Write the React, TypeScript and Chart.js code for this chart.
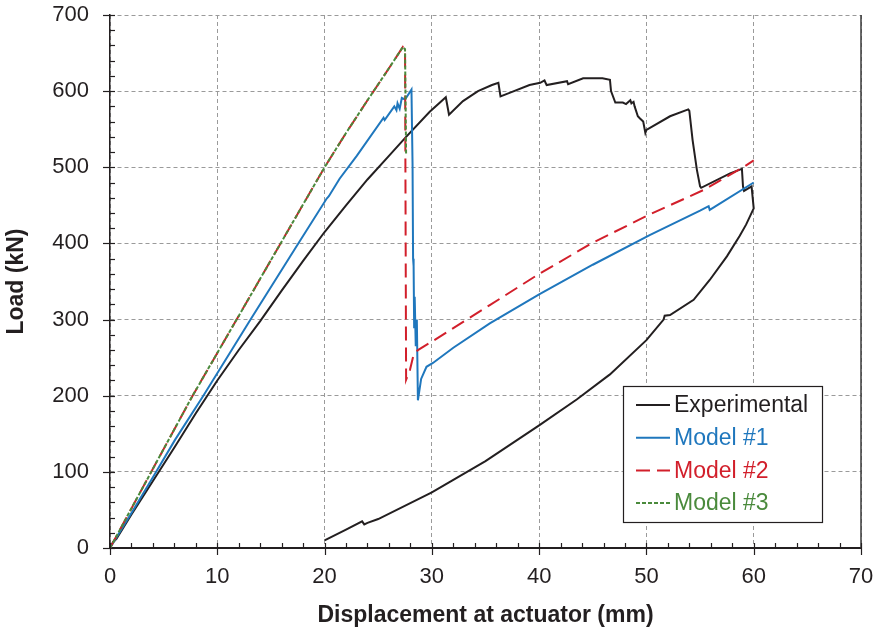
import React, { useEffect, useRef } from "react";
import { Chart, registerables } from "chart.js";

Chart.register(...registerables);

const FONT = '"Liberation Sans", Arial, Helvetica, sans-serif';
const INK = "#231f20";

// Axis settings
const xMin = 0;
const xMax = 70;
const xMajorStep = 10;
const xMinorStep = 2;
const yMin = 0;
const yMax = 700;
const yMajorStep = 100;
const yMinorStep = 20;

const xTitle = "Displacement at actuator (mm)";
const yTitle = "Load (kN)";

const seriesLabels = ["Experimental", "Model #1", "Model #2", "Model #3"];
const seriesColors = ["#231f20", "#1f77bd", "#d21f2b", "#4a8a3c"];

// Experimental
const expX = [
  0, 0.3, 0.6, 2, 4, 6, 8, 10, 12, 14, 16, 18, 20, 22, 24, 26, 27.6, 29.8, 31.3, 31.6,
  32.9, 34.3, 35.6, 36.2, 36.4, 37.3, 39.1, 40.1, 40.5, 40.7, 42.6, 42.7, 44.1, 45.9,
  46.6, 46.7, 47.1, 47.8, 48.1, 48.5, 48.6, 48.8, 48.9, 49.2, 49.4, 49.7, 49.9, 50.0,
  52.2, 53.9, 54.0, 54.3, 54.7, 55.0, 55.1, 57.8, 58.9, 59.0, 59.1, 59.8, 60.0,
  59.3, 58.7, 57.5, 55.9, 54.4, 52.2, 51.7, 51.6, 50.0, 46.6, 43.5, 40, 35, 30, 25, 24,
  23.7, 23.5, 22, 20,
];
const expY = [
  0, 8, 12, 44, 88, 132, 177, 220, 260, 298, 338, 377, 415, 450, 484, 515, 540, 573, 592, 569,
  587, 600, 608, 611, 593, 598, 608, 611, 614, 608, 613, 609, 617, 617,
  615, 600, 585, 585, 583, 588, 584, 586, 580, 567, 564, 560, 545, 549,
  567, 576, 574, 536, 497, 475, 473, 492, 498, 475, 469, 475, 446,
  425, 410, 383, 352, 326, 306, 305, 300, 273, 228, 195, 161, 114, 73, 38, 33,
  31, 35, 24, 10,
];

// Model #1
const m1X = [
  0, 2, 4, 6.06, 8.7, 13.1, 17.55, 20.2, 20.4, 21.4, 23, 25.5, 25.6, 26.5, 26.7, 26.8, 27.0,
  27.2, 27.5, 28.1, 28.2, 28.25, 28.3, 28.35, 28.4, 28.5, 28.6, 28.7, 29.0, 29.5, 30.1, 32,
  35.4, 40, 45, 50.3, 55, 55.8, 55.9, 60,
];
const m1Y = [
  0, 46, 93, 142, 200, 300, 400, 459, 462, 485, 515, 565, 562, 580, 575, 584, 577,
  591, 589, 602, 505, 380, 370, 290, 330, 265, 300, 194, 222, 238, 243, 263,
  295, 333, 372, 411, 443, 449, 444, 480,
];

// Model #2
const m2X = [
  0, 2, 4, 6, 7.7, 11.8, 15.9, 20, 22, 24, 26, 27.3, 27.5, 27.6, 27.96, 28.3, 28.7, 30,
  35.4, 40, 45, 50.3, 55.3, 58.9, 60,
];
const m2Y = [
  0, 52, 104, 156, 200, 300, 400, 500, 545, 588, 630, 658, 655, 221, 234, 254, 260, 271,
  319, 360, 401, 438, 470, 499, 509,
];

// Model #3
const m3X = [0, 2, 4, 6, 7.7, 11.8, 15.9, 20, 22, 24, 26, 27.3, 27.5, 27.6];
const m3Y = [0, 52, 104, 156, 200, 300, 400, 500, 545, 588, 630, 658, 655, 516];

const seriesX = [expX, m1X, m2X, m3X];
const seriesY = [expY, m1Y, m2Y, m3Y];
const seriesDash: number[][] = [[], [], [14, 7], [4, 2]];

function pairs(xs: number[], ys: number[]) {
  return xs.map((x, i) => ({ x, y: ys[i] }));
}

const decorPlugin = {
  id: "decor",
  afterDraw(chart: any) {
    const { ctx, chartArea: a } = chart;
    const xs = chart.scales.x;
    const ys = chart.scales.y;
    ctx.save();
    // right border
    ctx.strokeStyle = "#3a3a3a";
    ctx.lineWidth = 1.5;
    ctx.setLineDash([]);
    ctx.beginPath();
    ctx.moveTo(a.right, a.top);
    ctx.lineTo(a.right, a.bottom);
    ctx.stroke();

    ctx.strokeStyle = INK;
    ctx.lineWidth = 1.2;
    for (let v = xMin; v <= xMax + 1e-9; v += xMinorStep) {
      const px = Math.round(xs.getPixelForValue(v)) + 0.5;
      const major = Math.abs(v % xMajorStep) < 1e-9;
      ctx.beginPath();
      ctx.moveTo(px, a.bottom + (major ? 7 : 0));
      ctx.lineTo(px, a.bottom - 5);
      ctx.stroke();
    }
    for (let v = yMin; v <= yMax + 1e-9; v += yMinorStep) {
      const py = Math.round(ys.getPixelForValue(v)) + 0.5;
      const major = Math.abs(v % yMajorStep) < 1e-9;
      ctx.beginPath();
      ctx.moveTo(a.left - (major ? 7 : 0), py);
      ctx.lineTo(a.left + 5, py);
      ctx.stroke();
    }

    // legend
    const bx = a.right - 238;
    const by = a.top + 371;
    const bw = 199;
    const bh = 136;
    ctx.fillStyle = "#ffffff";
    ctx.fillRect(bx, by, bw, bh);
    ctx.strokeStyle = INK;
    ctx.lineWidth = 1.2;
    ctx.strokeRect(bx + 0.5, by + 0.5, bw, bh);
    ctx.font = `23px ${FONT}`;
    ctx.textBaseline = "middle";
    ctx.textAlign = "left";
    chart.data.datasets.forEach((ds: any, i: number) => {
      const ry = by + 19 + i * 32.7;
      ctx.strokeStyle = ds.borderColor;
      ctx.lineWidth = 2;
      ctx.setLineDash(ds.borderDash || []);
      ctx.beginPath();
      ctx.moveTo(bx + 13, ry);
      ctx.lineTo(bx + 47, ry);
      ctx.stroke();
      ctx.setLineDash([]);
      ctx.fillStyle = ds.borderColor;
      ctx.fillText(ds.label, bx + 51, ry + 1);
    });
    ctx.restore();
  },
};

export default function App() {
  const ref = useRef<HTMLCanvasElement | null>(null);

  useEffect(() => {
    if (!ref.current) return;
    const datasets = seriesLabels.map((label, i) => ({
      label,
      data: pairs(seriesX[i], seriesY[i]),
      borderColor: seriesColors[i],
      backgroundColor: seriesColors[i],
      borderWidth: 2,
      borderDash: seriesDash[i],
      pointRadius: 0,
      tension: 0,
      fill: false,
      order: 4 - i,
    }));
    const chart = new Chart(ref.current, {
      type: "line",
      data: { datasets },
      plugins: [decorPlugin],
      options: {
        animation: false,
        responsive: false,
        events: [],
        layout: { padding: { top: 15, right: 19, left: 0, bottom: 0 } },
        plugins: {
          legend: { display: false },
          tooltip: { enabled: false },
        },
        scales: {
          x: {
            type: "linear",
            min: xMin,
            max: xMax,
            afterFit: (s: any) => {
              s.height = 81;
            },
            ticks: {
              stepSize: xMajorStep,
              padding: 0,
              color: INK,
              autoSkip: false,
              maxRotation: 0,
              font: { family: FONT, size: 22 },
            },
            grid: {
              color: "#9a9a9a",
              lineWidth: 1,
              drawTicks: true,
              tickLength: 16,
              tickColor: "rgba(0,0,0,0)",
            },
            border: { color: INK, width: 2, dash: [4, 3] },
            title: {
              display: true,
              text: xTitle,
              color: INK,
              font: { family: FONT, size: 23, weight: "bold" },
              padding: { top: 0, bottom: 0 },
            },
          },
          y: {
            type: "linear",
            min: yMin,
            max: yMax,
            afterFit: (s: any) => {
              s.width = 110;
            },
            ticks: {
              stepSize: yMajorStep,
              padding: 0,
              color: INK,
              font: { family: FONT, size: 22 },
            },
            grid: {
              color: "#9a9a9a",
              lineWidth: 1,
              drawTicks: true,
              tickLength: 21,
              tickColor: "rgba(0,0,0,0)",
            },
            border: { color: INK, width: 1.5, dash: [4, 3] },
            title: {
              display: true,
              text: yTitle,
              color: INK,
              font: { family: FONT, size: 23, weight: "bold" },
              padding: { top: 3, bottom: 0 },
            },
          },
        },
      },
    } as any);
    return () => chart.destroy();
  }, []);

  return (
    <div style={{ position: "absolute", left: 0, top: 0, width: 880, height: 629, background: "#fff" }}>
      <canvas ref={ref} width={880} height={629} style={{ display: "block" }} />
    </div>
  );
}
